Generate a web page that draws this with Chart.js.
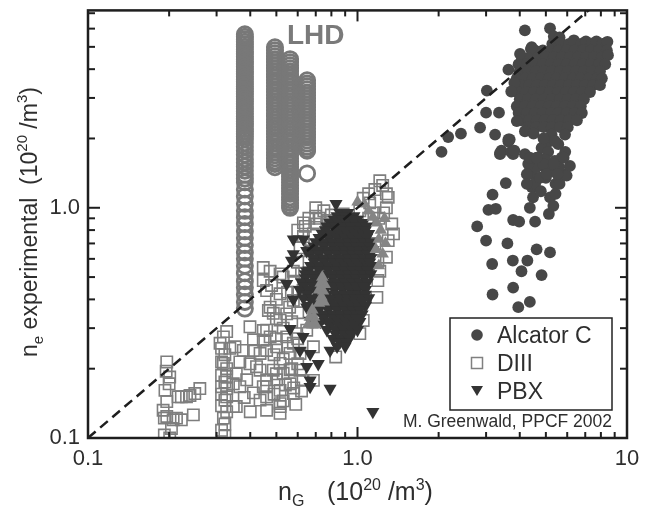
<!DOCTYPE html>
<html>
<head>
<meta charset="utf-8">
<title>Greenwald density limit</title>
<script src="https://cdn.jsdelivr.net/npm/chart.js@4.4.1/dist/chart.umd.min.js"></script>
<style>
    body { margin: 0; background: #fff; }
    #wrap { width: 650px; height: 506px; }
</style>
</head>
<body>
<div id="wrap"><canvas id="greenwald" width="650" height="506"></canvas></div>
<script>
// axes
const xTickVals = [0.1, 1, 10];
const xTickLabels = ['0.1', '1.0', '10'];
const yTickVals = [0.1, 1];
const yTickLabels = ['0.1', '1.0'];
const xMinorTicks = [0.2, 0.3, 0.4, 0.5, 0.6, 0.7, 0.8, 0.9, 2, 3, 4, 5, 6, 7, 8, 9];
const yMinorTicks = [0.2, 0.3, 0.4, 0.5, 0.6, 0.7, 0.8, 0.9, 2, 3, 4, 5, 6, 7];

// n_e = n_G line
const limitX = [0.1, 10];
const limitY = [0.1, 10];

// LHD - four vertical stacks of shots (x of each stack, then its y values)
const lhdX = [0.382, 0.494, 0.562, 0.65];
const lhdStack1 = [5.67, 5.53, 5.40, 5.26, 5.13, 5.01, 4.88, 4.76, 4.65, 4.53, 4.42, 4.31, 4.21, 4.10, 4.00,
    3.90, 3.81, 3.71, 3.62, 3.53, 3.45, 3.36, 3.28, 3.20, 3.12, 3.04, 2.97, 2.90, 2.82, 2.75, 2.69, 2.62,
    2.56, 2.49, 2.43, 2.37, 2.31, 2.26, 2.20, 2.15, 2.09, 2.04, 1.99, 1.91, 1.84, 1.77, 1.70, 1.63, 1.57,
    1.51, 1.45, 1.39, 1.34, 1.29, 1.20, 1.12, 1.04, 0.97, 0.91, 0.85, 0.79, 0.74, 0.69, 0.64, 0.60, 0.56,
    0.52, 0.48, 0.45, 0.42, 0.39, 0.365];
const lhdStack2 = [4.98, 4.83, 4.69, 4.55, 4.42, 4.29, 4.16, 4.04, 3.92, 3.80, 3.69, 3.58, 3.48, 3.37, 3.27,
    3.18, 3.08, 2.99, 2.90, 2.82, 2.73, 2.65, 2.57, 2.50, 2.42, 2.35, 2.28, 2.22, 2.15, 2.09, 2.03, 1.97,
    1.91, 1.85, 1.80, 1.74, 1.69, 1.64, 1.59, 1.55, 1.50];
const lhdStack3 = [4.42, 4.29, 4.16, 4.04, 3.92, 3.80, 3.69, 3.58, 3.48, 3.37, 3.27, 3.18, 3.08, 2.99, 2.90,
    2.82, 2.73, 2.65, 2.57, 2.50, 2.42, 2.35, 2.28, 2.22, 2.15, 2.09, 2.03, 1.97, 1.91, 1.85, 1.80, 1.74,
    1.69, 1.64, 1.59, 1.55, 1.50, 1.46, 1.41, 1.37, 1.33, 1.29, 1.25, 1.22, 1.18, 1.15, 1.11, 1.08, 1.05,
    1.02, 1.00];
const lhdStack4 = [3.58, 3.47, 3.37, 3.27, 3.17, 3.08, 2.99, 2.90, 2.81, 2.73, 2.65, 2.57, 2.49, 2.42, 2.35,
    2.28, 2.21, 2.14, 2.08, 2.02, 1.96, 1.90, 1.84, 1.79, 1.77];
const lhdLoose = [[0.65, 1.41]];

// Alcator C  [n_G, n_e]
const alcator = [
    [4.18, 5.90], [5.18, 6.02], [5.35, 5.55], [5.62, 5.50],
    [5.28, 5.15], [5.68, 5.20], [6.10, 5.15], [6.35, 5.34], [6.75, 5.15], [7.04, 5.28], [7.40, 5.15], [7.70, 5.28], [8.10, 5.15], [8.46, 5.26],
    [4.40, 4.90], [4.55, 4.83], [4.87, 4.83], [5.22, 4.83], [5.57, 4.83], [5.98, 4.83], [6.40, 4.83], [6.86, 4.83], [7.35, 4.83], [7.87, 4.83], [8.42, 4.83],
    [4.07, 4.51], [4.36, 4.51], [4.67, 4.51], [5.00, 4.51], [5.35, 4.51], [5.73, 4.51], [6.14, 4.51], [6.57, 4.51], [7.04, 4.51], [7.54, 4.51], [8.07, 4.51], [8.50, 4.60],
    [3.96, 4.20], [4.25, 4.20], [4.55, 4.20], [4.87, 4.20], [5.22, 4.20], [5.57, 4.20], [5.98, 4.20], [6.40, 4.20], [6.86, 4.20], [7.35, 4.20], [7.87, 4.20], [8.30, 4.20],
    [4.00, 3.92], [4.29, 3.92], [4.59, 3.92], [4.91, 3.92], [5.26, 3.92], [5.64, 3.92], [6.03, 3.92], [6.46, 3.92], [6.92, 3.92], [7.41, 3.92], [7.94, 3.92],
    [3.90, 3.65], [4.18, 3.65], [4.47, 3.65], [4.79, 3.65], [5.13, 3.65], [5.49, 3.65], [5.88, 3.65], [6.30, 3.65], [6.74, 3.65], [7.22, 3.65], [7.73, 3.65], [8.07, 3.65],
    [4.04, 3.41], [4.33, 3.41], [4.63, 3.41], [4.96, 3.41], [5.31, 3.41], [5.68, 3.41], [6.09, 3.41], [6.52, 3.41], [6.98, 3.41], [7.48, 3.41], [7.94, 3.41],
    [3.93, 3.18], [4.21, 3.18], [4.51, 3.18], [4.83, 3.18], [5.17, 3.18], [5.54, 3.18], [5.93, 3.18], [6.35, 3.18], [6.80, 3.18], [7.29, 3.18],
    [4.00, 2.96], [4.29, 2.96], [4.59, 2.96], [4.91, 2.96], [5.26, 2.96], [5.64, 2.96], [6.03, 2.96], [6.46, 2.96], [6.92, 2.96],
    [3.90, 2.76], [4.18, 2.76], [4.47, 2.76], [4.79, 2.76], [5.13, 2.76], [5.49, 2.76], [5.88, 2.76], [6.30, 2.76], [6.74, 2.76],
    [3.96, 2.58], [4.25, 2.58], [4.55, 2.58], [4.87, 2.58], [5.22, 2.58], [5.57, 2.58], [5.98, 2.58], [6.40, 2.58], [6.80, 2.58],
    [4.04, 2.40], [4.33, 2.40], [4.63, 2.40], [4.95, 2.40], [5.30, 2.40], [5.68, 2.40], [6.09, 2.40], [6.52, 2.40],
    [4.29, 2.24], [4.59, 2.24], [4.91, 2.24], [5.26, 2.24], [5.64, 2.24], [6.03, 2.24],
    [3.90, 2.38], [4.18, 2.15], [5.25, 2.08], [5.89, 2.08], [5.13, 1.94], [4.82, 1.82], [5.56, 1.89], [5.72, 1.65],
    [5.89, 1.40], [4.96, 1.50], [4.43, 1.40], [4.69, 1.65], [5.43, 1.27], [4.43, 1.23], [4.18, 1.71], [3.63, 1.94],
    [3.42, 1.77], [3.71, 1.75], [3.67, 1.98], [4.50, 2.10], [4.90, 2.00], [5.40, 1.95], [5.10, 1.75], [5.40, 1.60],
    [4.95, 1.62], [5.20, 1.45], [5.60, 1.50], [4.60, 1.50], [5.00, 1.35], [5.60, 1.33], [4.30, 1.55], [5.90, 1.75],
    [4.25, 1.40], [4.56, 1.27], [4.48, 1.11], [4.36, 1.00], [5.18, 1.11], [5.33, 1.02], [5.13, 0.94], [5.43, 1.15],
    [5.62, 1.27], [5.97, 1.38], [6.14, 1.52], [5.82, 1.65], [4.36, 1.65], [4.88, 1.55], [4.75, 1.35], [5.03, 1.40],
    [4.62, 1.65], [5.35, 1.55], [5.52, 1.40], [4.79, 1.18], [4.25, 1.27],
    [3.38, 1.71], [3.78, 1.71], [3.55, 1.28], [3.17, 1.14], [3.06, 0.98], [3.26, 0.99], [2.78, 0.83], [3.00, 0.72],
    [3.60, 0.70], [3.78, 0.885], [3.98, 0.87], [4.56, 0.87], [3.16, 0.57], [3.77, 0.59], [4.27, 0.59], [4.62, 0.66],
    [5.18, 0.64], [4.06, 0.53], [4.82, 0.51], [3.17, 0.42], [3.78, 0.45], [3.95, 0.37], [4.36, 0.39],
    [3.02, 3.23], [2.17, 2.03], [2.42, 2.10], [2.05, 1.75], [3.00, 2.59], [3.35, 2.59], [2.85, 2.23], [3.63, 1.98],
    [3.38, 1.73], [3.82, 1.77], [3.24, 2.08], [4.01, 4.66], [4.43, 4.98], [3.63, 3.98], [3.82, 3.49], [3.72, 3.20]
];

// DIII
const diii = [
    [0.196, 0.214], [0.201, 0.184], [0.193, 0.161], [0.196, 0.144], [0.196, 0.124], [0.204, 0.110], [0.192, 0.103],
    [0.216, 0.151], [0.222, 0.151], [0.232, 0.151], [0.239, 0.153], [0.249, 0.156], [0.260, 0.164], [0.246, 0.126],
    [0.213, 0.122], [0.222, 0.120], [0.192, 0.122], [0.207, 0.120], [0.201, 0.100], [0.190, 0.132], [0.200, 0.172],
    [0.195, 0.195],
    [0.327, 0.290], [0.309, 0.258], [0.318, 0.275], [0.313, 0.245], [0.322, 0.230], [0.313, 0.214], [0.327, 0.200],
    [0.313, 0.187], [0.322, 0.175], [0.327, 0.164], [0.313, 0.155], [0.322, 0.146], [0.313, 0.138], [0.327, 0.130],
    [0.318, 0.122], [0.322, 0.115], [0.313, 0.108], [0.322, 0.102], [0.318, 0.211], [0.327, 0.185], [0.313, 0.167],
    [0.327, 0.151],
    [0.336, 0.245], [0.351, 0.249], [0.346, 0.137], [0.355, 0.137], [0.346, 0.172], [0.366, 0.214], [0.377, 0.240],
    [0.399, 0.210], [0.411, 0.240], [0.435, 0.197], [0.447, 0.167], [0.435, 0.146], [0.447, 0.266], [0.467, 0.358],
    [0.399, 0.304], [0.411, 0.267], [0.460, 0.294], [0.435, 0.233], [0.487, 0.348], [0.516, 0.325], [0.546, 0.275],
    [0.562, 0.233], [0.366, 0.167], [0.388, 0.179], [0.422, 0.204], [0.411, 0.157], [0.460, 0.179], [0.501, 0.179],
    [0.460, 0.151], [0.516, 0.137], [0.516, 0.211], [0.562, 0.198], [0.578, 0.258], [0.612, 0.233], [0.648, 0.294],
    [0.686, 0.249], [0.447, 0.293], [0.474, 0.275], [0.460, 0.240], [0.501, 0.249], [0.487, 0.197], [0.530, 0.191],
    [0.460, 0.167], [0.516, 0.161], [0.562, 0.172], [0.516, 0.141], [0.460, 0.132], [0.516, 0.128], [0.578, 0.156],
    [0.612, 0.197], [0.595, 0.284], [0.546, 0.346], [0.474, 0.370], [0.460, 0.437], [0.516, 0.423], [0.578, 0.396],
    [0.628, 0.437], [0.447, 0.483], [0.474, 0.530], [0.447, 0.550], [0.516, 0.516], [0.578, 0.530], [0.686, 0.178],
    [0.628, 0.178], [0.830, 0.225], [0.355, 0.190], [0.380, 0.150], [0.400, 0.130],
    [0.630, 0.860], [0.660, 0.900], [0.700, 0.920], [0.640, 0.830], [0.600, 0.800], [0.600, 0.580], [0.530, 0.500],
    [0.580, 0.480], [0.620, 0.520], [0.480, 0.460], [0.550, 0.430], [0.600, 0.430], [0.500, 0.400], [0.560, 0.370],
    [0.600, 0.350], [0.500, 0.330], [0.530, 0.300], [0.570, 0.320], [0.600, 0.270], [0.500, 0.270], [0.550, 0.250],
    [0.490, 0.230], [0.530, 0.220], [0.570, 0.200], [0.600, 0.210], [0.500, 0.190], [0.540, 0.170], [0.580, 0.165],
    [0.490, 0.155], [0.530, 0.145], [0.590, 0.140], [0.620, 0.160],
    [1.21, 1.31], [1.28, 1.15], [1.16, 1.20], [1.11, 1.05], [1.28, 1.00], [1.34, 0.85], [1.30, 0.72], [1.28, 0.61],
    [1.21, 0.53], [1.36, 0.77], [1.02, 0.97], [0.885, 0.94], [0.769, 0.85], [0.705, 0.85], [0.63, 0.75], [0.686, 0.77],
    [0.667, 0.65], [0.612, 0.67], [1.16, 0.70], [1.19, 0.59], [1.18, 0.408], [1.05, 0.324], [1.02, 0.284], [1.19, 0.483],
    [1.10, 1.15], [1.05, 1.10], [1.15, 0.95], [1.20, 0.90], [1.10, 0.90], [1.30, 1.11], [0.70, 1.00], [0.75, 0.97],
    [0.80, 0.93], [0.72, 0.90], [0.78, 0.88], [1.24, 1.25], [1.25, 0.95]
];

// PBX
const pbx = [
    [0.832, 1.04], [0.578, 0.73], [0.630, 0.73], [0.578, 0.63], [0.648, 0.65], [0.569, 0.59], [0.546, 0.467],
    [0.578, 0.40], [0.562, 0.298], [0.628, 0.275], [0.667, 0.324], [0.648, 0.37], [0.612, 0.24], [0.667, 0.232],
    [0.648, 0.204], [0.715, 0.21], [0.667, 0.178], [0.667, 0.167], [0.791, 0.164], [1.14, 0.13], [0.791, 0.24],
    [0.726, 0.55], [0.648, 0.53],
    [0.86, 0.95], [0.92, 0.95],
    [0.84, 0.92], [0.90, 0.92], [0.97, 0.92],
    [0.82, 0.89], [0.88, 0.89], [0.94, 0.89], [1.00, 0.89],
    [0.79, 0.86], [0.85, 0.86], [0.91, 0.86], [0.98, 0.86], [1.05, 0.86],
    [0.77, 0.83], [0.83, 0.83], [0.89, 0.83], [0.95, 0.83], [1.02, 0.83], [1.08, 0.83],
    [0.76, 0.80], [0.83, 0.80], [0.89, 0.80], [0.95, 0.80], [1.01, 0.80], [1.07, 0.80],
    [0.74, 0.77], [0.80, 0.77], [0.86, 0.77], [0.92, 0.77], [0.98, 0.77], [1.05, 0.77], [1.10, 0.77],
    [0.72, 0.74], [0.78, 0.74], [0.84, 0.74], [0.90, 0.74], [0.96, 0.74], [1.02, 0.74], [1.08, 0.74],
    [0.70, 0.71], [0.75, 0.71], [0.81, 0.71], [0.87, 0.71], [0.93, 0.71], [0.99, 0.71], [1.06, 0.71], [1.12, 0.71],
    [0.69, 0.68], [0.75, 0.68], [0.81, 0.68], [0.87, 0.68], [0.93, 0.68], [0.99, 0.68], [1.05, 0.68], [1.11, 0.68],
    [0.67, 0.655], [0.72, 0.655], [0.78, 0.655], [0.84, 0.655], [0.90, 0.655], [0.96, 0.655], [1.02, 0.655], [1.09, 0.655], [1.14, 0.655],
    [0.67, 0.63], [0.72, 0.63], [0.78, 0.63], [0.84, 0.63], [0.90, 0.63], [0.96, 0.63], [1.02, 0.63], [1.09, 0.63],
    [0.69, 0.605], [0.75, 0.605], [0.81, 0.605], [0.87, 0.605], [0.93, 0.605], [0.99, 0.605], [1.06, 0.605], [1.12, 0.605],
    [0.69, 0.58], [0.75, 0.58], [0.81, 0.58], [0.87, 0.58], [0.93, 0.58], [0.99, 0.58], [1.06, 0.58], [1.11, 0.58],
    [0.67, 0.56], [0.72, 0.56], [0.78, 0.56], [0.84, 0.56], [0.90, 0.56], [0.96, 0.56], [1.02, 0.56], [1.09, 0.56], [1.13, 0.56],
    [0.66, 0.535], [0.72, 0.535], [0.78, 0.535], [0.84, 0.535], [0.90, 0.535], [0.96, 0.535], [1.02, 0.535], [1.09, 0.535],
    [0.64, 0.515], [0.69, 0.515], [0.75, 0.515], [0.81, 0.515], [0.87, 0.515], [0.93, 0.515], [0.99, 0.515], [1.06, 0.515], [1.12, 0.515],
    [0.64, 0.495], [0.69, 0.495], [0.75, 0.495], [0.81, 0.495], [0.87, 0.495], [0.93, 0.495], [0.99, 0.495], [1.06, 0.495],
    [0.62, 0.475], [0.67, 0.475], [0.72, 0.475], [0.78, 0.475], [0.84, 0.475], [0.90, 0.475], [0.96, 0.475], [1.02, 0.475], [1.09, 0.475],
    [0.63, 0.457], [0.69, 0.457], [0.75, 0.457], [0.81, 0.457], [0.87, 0.457], [0.93, 0.457], [0.99, 0.457], [1.05, 0.457],
    [0.61, 0.44], [0.66, 0.44], [0.71, 0.44], [0.76, 0.44], [0.82, 0.44], [0.88, 0.44], [0.94, 0.44], [1.00, 0.44], [1.07, 0.44],
    [0.65, 0.42], [0.71, 0.42], [0.77, 0.42], [0.83, 0.42], [0.89, 0.42], [0.95, 0.42], [1.01, 0.42], [1.07, 0.42],
    [0.63, 0.405], [0.68, 0.405], [0.74, 0.405], [0.80, 0.405], [0.86, 0.405], [0.92, 0.405], [0.98, 0.405], [1.04, 0.405], [1.10, 0.405],
    [0.68, 0.39], [0.74, 0.39], [0.80, 0.39], [0.86, 0.39], [0.92, 0.39], [0.98, 0.39], [1.04, 0.39],
    [0.66, 0.375], [0.71, 0.375], [0.77, 0.375], [0.83, 0.375], [0.89, 0.375], [0.95, 0.375], [1.01, 0.375], [1.07, 0.375],
    [0.72, 0.36], [0.78, 0.36], [0.84, 0.36], [0.90, 0.36], [0.96, 0.36], [1.02, 0.36],
    [0.69, 0.345], [0.75, 0.345], [0.81, 0.345], [0.87, 0.345], [0.93, 0.345], [0.99, 0.345], [1.04, 0.345],
    [0.75, 0.332], [0.81, 0.332], [0.87, 0.332], [0.93, 0.332], [0.99, 0.332],
    [0.73, 0.32], [0.79, 0.32], [0.85, 0.32], [0.91, 0.32], [0.97, 0.32], [1.02, 0.32],
    [0.79, 0.307], [0.85, 0.307], [0.91, 0.307], [0.97, 0.307],
    [0.77, 0.295], [0.83, 0.295], [0.89, 0.295], [0.95, 0.295], [1.00, 0.295],
    [0.83, 0.282], [0.89, 0.282], [0.95, 0.282],
    [0.81, 0.27], [0.87, 0.27], [0.93, 0.27],
    [0.86, 0.26], [0.91, 0.26],
    [0.84, 0.25], [0.90, 0.25]
];

// other shots (grey up-triangles, not in legend)
const otherShots = [
    [0.740, 0.50], [0.730, 0.47], [0.755, 0.465], [0.720, 0.44], [0.745, 0.435], [0.735, 0.41], [0.720, 0.385],
    [0.750, 0.39], [0.680, 0.36], [0.665, 0.335], [0.690, 0.335], [0.655, 0.31], [0.680, 0.31], [0.700, 0.31],
    [1.10, 0.97], [1.14, 0.91], [1.18, 0.86], [1.22, 0.80], [1.20, 0.73], [1.17, 0.66], [1.24, 0.63], [1.20, 0.56],
    [1.26, 0.90], [1.27, 0.70], [1.00, 1.06], [1.06, 1.04]
];

const FONT = '"Liberation Sans", Arial, Helvetica, sans-serif';
const toXY = arr => arr.map(p => ({x: p[0], y: p[1]}));

const lhdPoints = [];
[lhdStack1, lhdStack2, lhdStack3, lhdStack4].forEach((stack, i) => {
    stack.forEach(v => lhdPoints.push({x: lhdX[i], y: v}));
});
lhdLoose.forEach(p => lhdPoints.push({x: p[0], y: p[1]}));

// draw text made of pieces (sub/superscripts)
function richText(ctx, parts, x, y, measureOnly) {
    let cx = x;
    parts.forEach(([t, size, dy]) => {
        ctx.font = size + 'px ' + FONT;
        if (!measureOnly) ctx.fillText(t, cx, y + dy);
        cx += ctx.measureText(t).width;
    });
    return cx - x;
}

const decor = {
    id: 'decor',
    afterDatasetsDraw(chart) {
        const {ctx, chartArea: a, scales: {x, y}} = chart;
        ctx.save();
        ctx.strokeStyle = '#1e1e1e';
        ctx.lineWidth = 2;
        const seg = (x1, y1, x2, y2) => { ctx.beginPath(); ctx.moveTo(x1, y1); ctx.lineTo(x2, y2); ctx.stroke(); };

        // inward ticks on all four sides
        xMinorTicks.forEach(v => { const p = x.getPixelForValue(v); seg(p, a.bottom, p, a.bottom - 6); seg(p, a.top, p, a.top + 6); });
        xTickVals.forEach(v => { const p = x.getPixelForValue(v); seg(p, a.bottom, p, a.bottom - 11); seg(p, a.top, p, a.top + 11); });
        yMinorTicks.forEach(v => { const p = y.getPixelForValue(v); seg(a.left, p, a.left + 7, p); seg(a.right, p, a.right - 7, p); });
        yTickVals.forEach(v => { const p = y.getPixelForValue(v); seg(a.left, p, a.left + 12, p); seg(a.right, p, a.right - 12, p); });

        ctx.lineWidth = 2.5;
        ctx.strokeRect(a.left, a.top, a.right - a.left, a.bottom - a.top);

        // LHD tag
        ctx.fillStyle = '#7a7a7a';
        ctx.font = 'bold 28px ' + FONT;
        ctx.textBaseline = 'alphabetic';
        ctx.fillText('LHD', 287, 44);

        // legend box
        const lx = 450, ly = 318, lw = 162, lh = 92;
        ctx.fillStyle = '#fff';
        ctx.fillRect(lx, ly, lw, lh);
        ctx.lineWidth = 1.5;
        ctx.strokeStyle = '#222';
        ctx.strokeRect(lx, ly, lw, lh);
        const mx = 477;
        ctx.fillStyle = '#474747';
        ctx.beginPath(); ctx.arc(mx, 335, 5.8, 0, Math.PI * 2); ctx.fill();
        ctx.strokeStyle = '#808080'; ctx.lineWidth = 1.5;
        ctx.strokeRect(mx - 5.5, 363 - 5.5, 11, 11);
        ctx.fillStyle = '#333';
        ctx.beginPath(); ctx.moveTo(mx - 6, 386); ctx.lineTo(mx + 6, 386); ctx.lineTo(mx, 396); ctx.closePath(); ctx.fill();

        ctx.fillStyle = '#2e2e2e';
        ctx.font = '23px ' + FONT;
        ctx.fillText('Alcator C', 497, 343);
        ctx.fillText('DIII', 497, 371);
        ctx.fillText('PBX', 497, 399);

        ctx.font = '17.5px ' + FONT;
        ctx.textAlign = 'right';
        ctx.fillText('M. Greenwald, PPCF 2002', 612, 427);
        ctx.textAlign = 'left';

        // x title
        richText(ctx, [['n', 25, 0], ['G', 16, 6]], 278, 500);
        richText(ctx, [['(10', 25, 0], ['20', 16, -10], [' /m', 25, 0], ['3', 16, -10], [')', 25, 0]], 327, 500);

        // y title
        const yParts = [['n', 23, 0], ['e', 15, 6], [' experimental  (10', 23, 0], ['20', 15, -10],
            [' /m', 23, 0], ['3', 15, -10], [')', 23, 0]];
        const w = richText(ctx, yParts, 0, 0, true);
        ctx.translate(37, 222);
        ctx.rotate(-Math.PI / 2);
        richText(ctx, yParts, -w / 2, 0);
        ctx.restore();
    }
};

const ctx = document.getElementById('greenwald');
const greenwaldChart = new Chart(ctx, {
    type: 'scatter',
    data: {
        datasets: [{
            label: 'LHD',
            data: lhdPoints,
            pointStyle: 'circle',
            pointRadius: 7.6,
            borderWidth: 2.8,
            borderColor: '#787878',
            backgroundColor: 'rgba(255,255,255,0)',
            order: 6
        }, {
            label: 'DIII',
            data: toXY(diii),
            pointStyle: 'rect',
            pointRadius: 8,
            borderWidth: 1.6,
            borderColor: '#7e7e7e',
            backgroundColor: 'rgba(255,255,255,0)',
            order: 5
        }, {
            label: 'PBX',
            data: toXY(pbx),
            pointStyle: 'triangle',
            pointRotation: 180,
            pointRadius: 7.6,
            borderWidth: 0,
            backgroundColor: '#333333',
            order: 4
        }, {
            label: 'other',
            data: toXY(otherShots),
            pointStyle: 'triangle',
            pointRadius: 7.2,
            borderWidth: 0,
            backgroundColor: '#858585',
            order: 3
        }, {
            label: 'Alcator C',
            data: toXY(alcator),
            pointStyle: 'circle',
            pointRadius: 5.9,
            borderWidth: 0,
            backgroundColor: '#474747',
            order: 2
        }, {
            label: 'n_e = n_G',
            data: limitX.map((v, i) => ({x: v, y: limitY[i]})),
            showLine: true,
            pointRadius: 0,
            borderColor: '#1e1e1e',
            borderWidth: 2.5,
            borderDash: [10, 6],
            order: 1
        }]
    },
    options: {
        responsive: false,
        animation: false,
        layout: {
            padding: {top: 9, right: 23, left: 0, bottom: 0}
        },
        scales: {
            x: {
                type: 'logarithmic',
                min: 0.1,
                max: 10,
                grid: {display: false, drawTicks: false},
                border: {display: false},
                ticks: {
                    autoSkip: false,
                    maxRotation: 0,
                    padding: 8,
                    color: '#2e2e2e',
                    font: {family: FONT, size: 22},
                    callback: (v, i) => xTickLabels[i]
                },
                afterBuildTicks: s => { s.ticks = xTickVals.map(v => ({value: v})); },
                afterFit: s => { s.height = 68; s.paddingLeft = 0; s.paddingRight = 0; }
            },
            y: {
                type: 'logarithmic',
                min: 0.1,
                max: 7.2,
                grid: {display: false, drawTicks: false},
                border: {display: false},
                ticks: {
                    autoSkip: false,
                    padding: 8,
                    color: '#2e2e2e',
                    font: {family: FONT, size: 22},
                    callback: (v, i) => yTickLabels[i]
                },
                afterBuildTicks: s => { s.ticks = yTickVals.map(v => ({value: v})); },
                afterFit: s => { s.width = 88; s.paddingTop = 0; s.paddingBottom = 0; }
            }
        },
        plugins: {
            legend: {display: false},
            tooltip: {enabled: false}
        }
    },
    plugins: [decor]
});
</script>
</body>
</html>
